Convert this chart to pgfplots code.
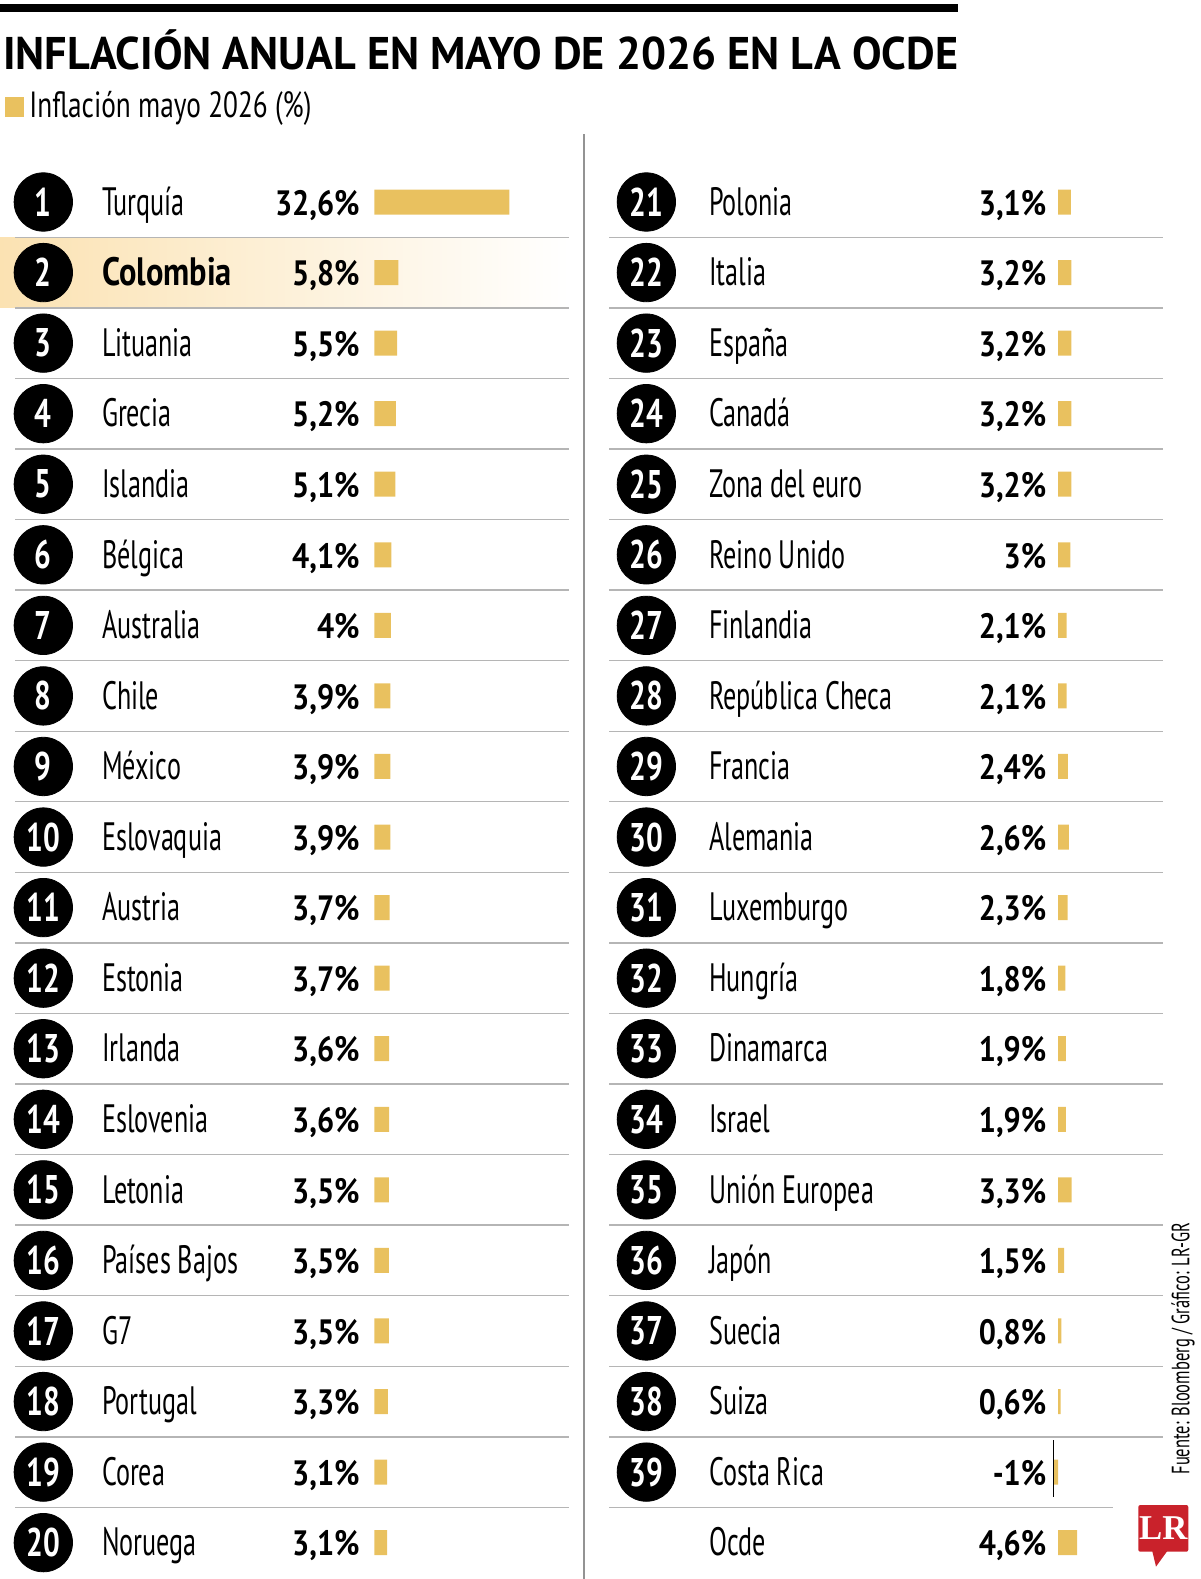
\documentclass[border=0pt]{standalone}
\usepackage{pgfplots}
\pgfplotsset{compat=1.18}
\usepackage{pgfplotstable}
\usepackage{fontspec}
\setmainfont{PT Sans}
\newfontfamily\namefont{PT Sans}[FakeStretch=0.66]
\newfontfamily\subfont{PT Sans}[FakeStretch=0.75]
\newfontfamily\valfont{PT Sans}[FakeStretch=0.86]
\newfontfamily\colfont{PT Sans}[FakeStretch=0.82]
\newfontfamily\numfont{PT Sans}[FakeStretch=0.74]
\newfontfamily\titlefont{PT Sans}[FakeStretch=0.965]
\newfontfamily\lrfont{Liberation Serif}
\definecolor{gold}{HTML}{E9C15F}
\definecolor{hi}{HTML}{FBE2B2}
\definecolor{himid}{HTML}{FEF1DA}
\definecolor{sepc}{HTML}{B5B5B5}
\definecolor{lrred}{HTML}{C9222B}

\pgfplotstableread[col sep=comma,row sep=\\]{
rank,name,v\\
1,Turquía,32.6\\
2,Colombia,5.8\\
3,Lituania,5.5\\
4,Grecia,5.2\\
5,Islandia,5.1\\
6,Bélgica,4.1\\
7,Australia,4\\
8,Chile,3.9\\
9,México,3.9\\
10,Eslovaquia,3.9\\
11,Austria,3.7\\
12,Estonia,3.7\\
13,Irlanda,3.6\\
14,Eslovenia,3.6\\
15,Letonia,3.5\\
16,Países Bajos,3.5\\
17,G7,3.5\\
18,Portugal,3.3\\
19,Corea,3.1\\
20,Noruega,3.1\\
}\leftdata

\pgfplotstableread[col sep=comma,row sep=\\]{
rank,name,v\\
21,Polonia,3.1\\
22,Italia,3.2\\
23,España,3.2\\
24,Canadá,3.2\\
25,Zona del euro,3.2\\
26,Reino Unido,3\\
27,Finlandia,2.1\\
28,República Checa,2.1\\
29,Francia,2.4\\
30,Alemania,2.6\\
31,Luxemburgo,2.3\\
32,Hungría,1.8\\
33,Dinamarca,1.9\\
34,Israel,1.9\\
35,Unión Europea,3.3\\
36,Japón,1.5\\
37,Suecia,0.8\\
38,Suiza,0.6\\
39,Costa Rica,-1\\
40,Ocde,4.6\\
}\rightdata

\pgfplotsset{
  rowaxis/.style={hide axis, clip=false, x=2.07pt, y=35.28pt, y dir=reverse, anchor=north west},
  namestyle/.style={only marks, mark=none, point meta=explicit symbolic,
    nodes near coords={\pgfplotspointmeta},
    every node near coord/.append style={anchor=base west, inner sep=0pt, yshift=-6.6pt,
      font=\namefont\fontsize{19.8}{20}\selectfont, text=black}},
  valstyle/.style={only marks, mark=none, point meta=\thisrow{v},
    nodes near coords={\pgfmathprintnumber[fixed,precision=1,use comma,assume math mode=true]{\pgfplotspointmeta}\%},
    every node near coord/.append style={anchor=base east, inner sep=0pt, yshift=-6.6pt,
      font=\valfont\bfseries\fontsize{17.6}{18}\selectfont, text=black}},
  circstyle/.style={only marks, mark=*, mark size=14.6pt, mark options={fill=black, draw=none},
    point meta=explicit symbolic, nodes near coords={\pgfplotspointmeta},
    every node near coord/.append style={anchor=center, inner sep=0pt, text=white,
      font=\numfont\bfseries\fontsize{20}{20}\selectfont}},
  barstyle/.style={xbar, bar width=12.5pt, fill=gold, draw=none},
}

\begin{document}
\begin{tikzpicture}
\useasboundingbox (0,0) rectangle (600pt,-789.5pt);
% top rule and titles
\fill[black] (0,-2pt) rectangle (479pt,-6pt);
\node[anchor=base west, inner sep=0pt] at (1.35pt,-34.65pt)
  {\titlefont\bfseries\fontsize{22.9}{24}\selectfont INFLACIÓN ANUAL EN MAYO DE 2026 EN LA OCDE};
\fill[gold] (2.5pt,-48.65pt) rectangle (12.15pt,-58.35pt);
\node[anchor=base west, inner sep=0pt] at (14.5pt,-58.65pt)
  {\subfont\fontsize{18.2}{19}\selectfont Inflación mayo 2026 (\%)};
% divider
\draw[color=gray!85, line width=0.8pt] (291.95pt,-67pt) -- (291.95pt,-789.5pt);

% left column
\begin{axis}[rowaxis, at={(0pt,-83.35pt)}, xmin=-90.41, xmax=50.63, ymin=0.5, ymax=20.5]
  \fill[left color=hi, middle color=himid, right color=white] (axis cs:-90.41,1.5) rectangle (axis cs:46.98,2.5);
  \pgfplotsinvokeforeach{1.5,2.5,...,19.5}{\draw[sepc, line width=0.7pt] (axis cs:-86.76,#1) -- (axis cs:46.98,#1);}
  \addplot[barstyle] table[x=v, y=rank] {\leftdata};
  \addplot[circstyle] table[x expr=-79.95, y=rank, meta=rank] {\leftdata};
  \addplot[namestyle, y filter/.expression={y==2 ? nan : y}] table[x expr=-65.85, y=rank, meta=name] {\leftdata};
  \addplot[namestyle, every node near coord/.append style={font=\colfont\bfseries\fontsize{19.8}{20}\selectfont}]
    coordinates {(-65.85,2) [Colombia]};
  \addplot[valstyle] table[x expr=-3.45, y=rank] {\leftdata};
\end{axis}

% right column
\begin{axis}[rowaxis, at={(291.95pt,-83.35pt)}, xmin=-114.52, xmax=34.30, ymin=20.5, ymax=40.5]
  \pgfplotsinvokeforeach{21.5,22.5,...,38.5}{\draw[sepc, line width=0.7pt] (axis cs:-108.45,#1) -- (axis cs:25.43,#1);}
  \draw[sepc, line width=0.7pt] (axis cs:-108.45,39.5) -- (axis cs:13.36,39.5);
  \addplot[barstyle] table[x=v, y=rank] {\rightdata};
  \addplot[black, line width=0.6pt] coordinates {(-1.13,38.55) (-1.13,39.35)};
  \addplot[circstyle, y filter/.expression={y==40 ? nan : y}] table[x expr=-99.44, y=rank, meta=rank] {\rightdata};
  \addplot[namestyle] table[x expr=-84.37, y=rank, meta=name] {\rightdata};
  \addplot[valstyle] table[x expr=-2.73, y=rank] {\rightdata};
\end{axis}

% source and logo
\node[rotate=90, inner sep=0pt] at (591.5pt,-674.3pt)
  {\namefont\fontsize{12.5}{13}\selectfont Fuente: Bloomberg / Gráfico: LR-GR};
\fill[lrred, rounded corners=1pt] (569.15pt,-752.5pt) rectangle (594.15pt,-775.85pt);
\fill[lrred] (576pt,-775pt) -- (584pt,-775pt) -- (578pt,-783.3pt) -- cycle;
\node[inner sep=0pt, text=white] at (581.65pt,-764.2pt) {\lrfont\bfseries\fontsize{17.4}{18}\selectfont LR};
\end{tikzpicture}
\end{document}
